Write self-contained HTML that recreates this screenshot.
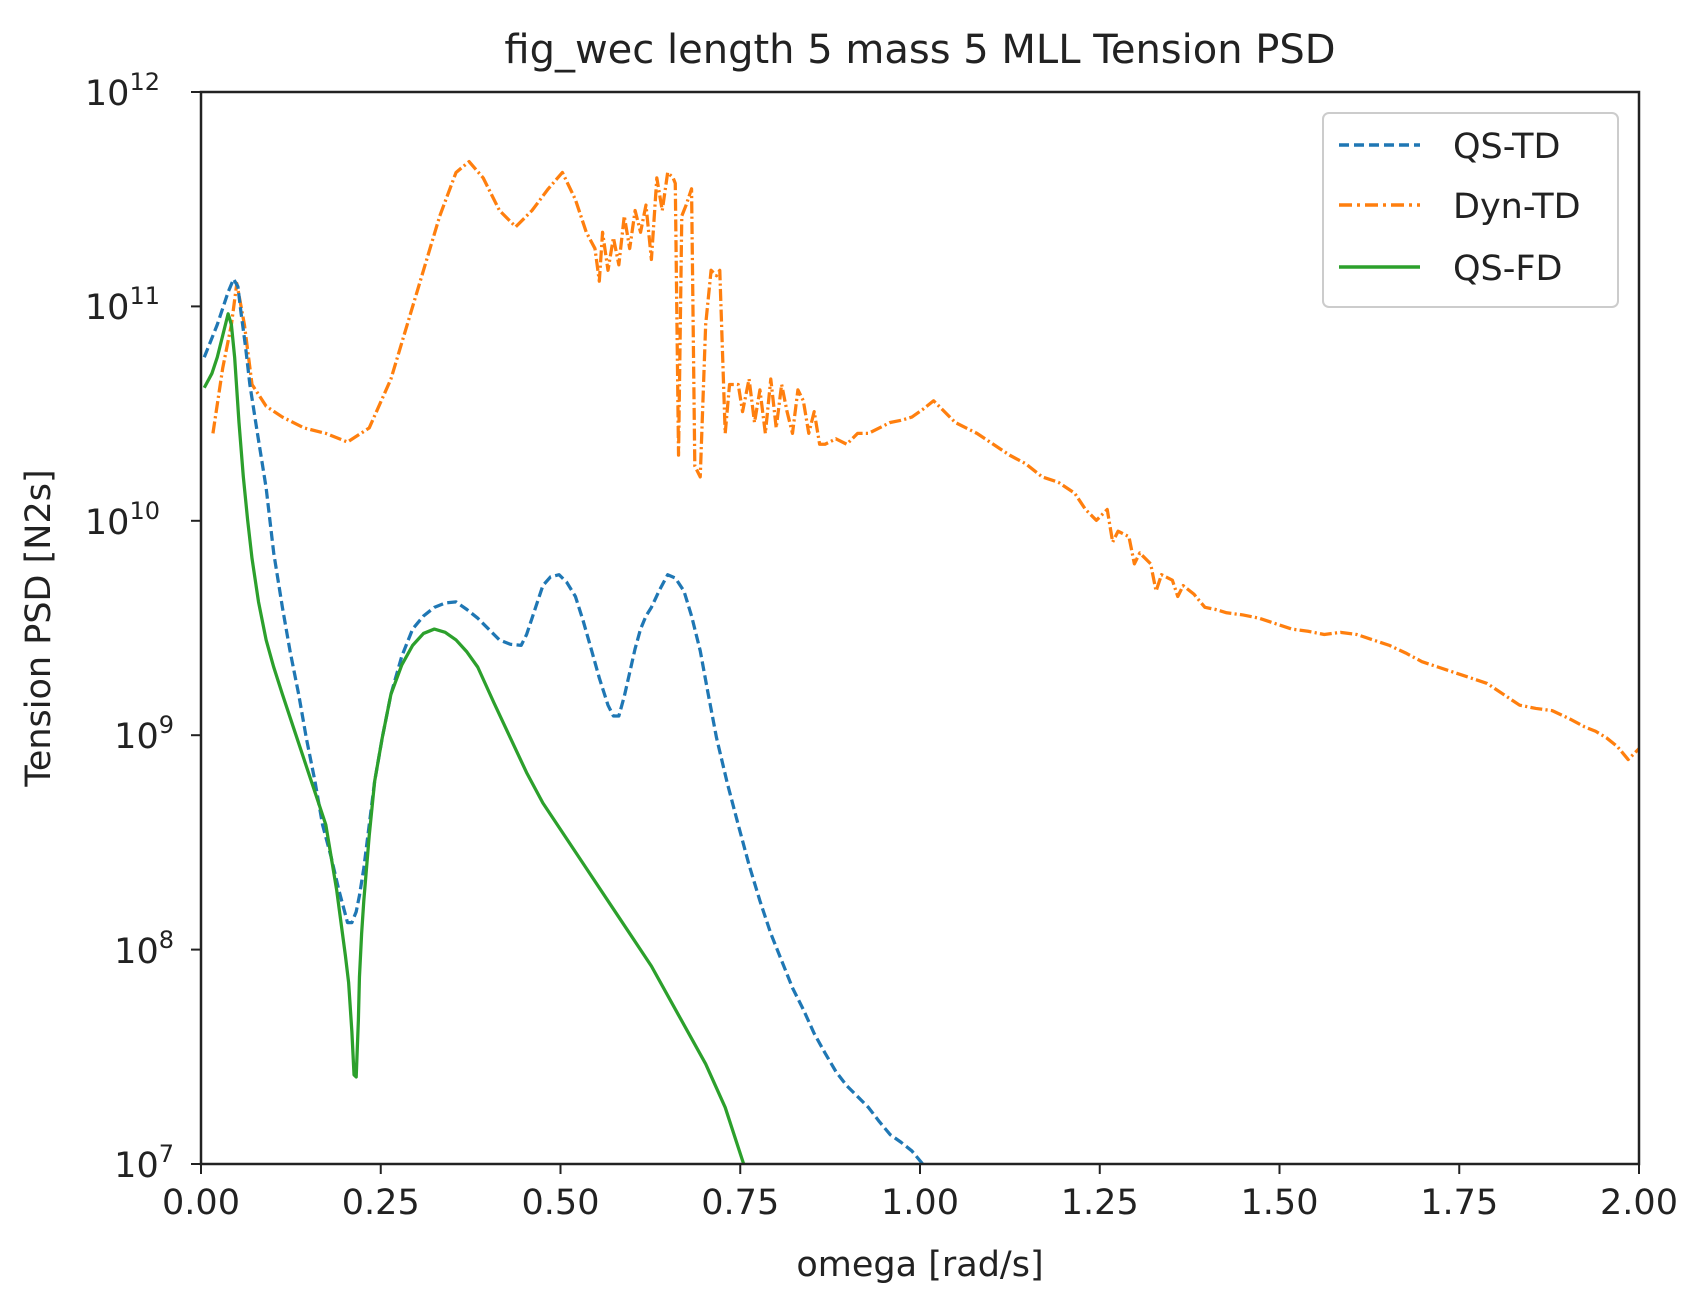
<!DOCTYPE html>
<html><head><meta charset="utf-8"><style>
html,body{margin:0;padding:0;background:#fff;}
svg{display:block;font-family:"DejaVu Sans","Liberation Sans",sans-serif;}
</style></head><body>
<svg width="1702" height="1307" viewBox="0 0 1702 1307" xmlns="http://www.w3.org/2000/svg">
<rect width="1702" height="1307" fill="#fff"/>
<text x="920" y="63" font-size="40" text-anchor="middle" fill="#222">fig_wec length 5 mass 5 MLL Tension PSD</text>
<g transform="matrix(1.0853,0,0,1.0872,0.22,-1.5)" fill="none" stroke-linejoin="round">
<clipPath id="c"><rect x="185" y="86" width="1325" height="986"/></clipPath>
<g clip-path="url(#c)">
<polyline stroke="#ff7f0e" stroke-width="3" stroke-dasharray="11,3,2,3" points="196,400 205,340 213,300 218,262 225,300 232,355 245,375 260,385 280,395 300,400 320,408 340,395 360,350 375,300 390,250 405,200 420,160 432,150 445,165 460,195 475,210 490,195 505,175 518,160 530,185 540,215 548,230 552,260 555,215 560,250 565,220 570,245 575,200 580,230 585,195 590,215 595,190 600,240 605,165 610,195 615,160 620,165 622,170 625,420 628,200 632,190 637,175 640,430 645,440 650,300 655,250 660,255 663,250 668,400 672,355 680,355 684,380 690,350 695,390 700,360 705,400 710,350 715,395 720,355 725,380 730,400 735,360 740,370 745,400 750,380 755,410 760,410 770,405 780,410 790,400 800,400 810,395 820,390 830,388 840,385 850,378 860,370 870,380 880,390 890,395 900,400 915,410 930,420 945,428 960,440 975,445 990,455 1000,470 1010,480 1020,470 1025,500 1030,490 1040,495 1045,520 1050,510 1060,520 1065,545 1070,530 1080,535 1085,550 1090,540 1100,548 1110,560 1120,562 1130,565 1145,567 1160,570 1175,575 1190,580 1205,582 1220,585 1235,583 1250,585 1265,590 1280,595 1295,602 1310,610 1325,615 1340,620 1355,625 1370,630 1385,640 1400,650 1415,653 1430,655 1445,662 1460,670 1470,674 1480,680 1490,688 1500,700 1510,690"/>
<polyline stroke="#1f77b4" stroke-width="3" stroke-dasharray="9,4" points="188,330 200,300 210,270 215,258 219,265 222,290 226,320 230,355 237,400 245,450 252,510 260,560 267,600 275,640 282,680 290,720 297,760 305,790 312,820 320,850 324,850 328,840 331,825 335,800 340,760 345,720 352,680 360,640 370,605 380,580 390,568 400,560 410,556 420,555 430,562 440,570 450,580 460,590 470,594 480,595 485,585 490,570 495,555 500,540 507,532 515,530 522,537 530,550 537,572 545,600 552,625 560,650 565,660 570,660 575,642 580,620 585,598 590,580 595,568 600,560 607,545 615,530 622,533 630,545 637,568 645,600 652,638 660,680 670,722 680,760 690,797 700,830 710,860 720,885 730,910 740,930 750,952 760,970 770,987 780,1000 790,1010 800,1020 810,1033 820,1045 830,1052 840,1060 850,1072"/>
<polyline stroke="#2ca02c" stroke-width="3" points="188,358 195,345 200,330 205,310 210,290 213,300 216,330 220,390 224,440 228,480 232,515 238,555 245,590 252,615 260,640 270,670 280,700 290,730 300,760 310,820 318,880 321,905 324,950 326,990 328,992 330,940 331,900 333,860 335,830 340,770 345,720 352,680 360,640 370,613 380,595 390,584 400,580 410,583 420,590 430,601 440,615 455,648 470,680 485,712 500,740 520,770 540,800 570,845 600,890 625,935 650,980 668,1020 685,1072"/>
</g>
</g>
<g stroke="#222" stroke-width="2.5" fill="none">
<rect x="201" y="92" width="1438" height="1072"/>
</g>
<g stroke="#222" stroke-width="2">
<line x1="201" y1="1164" x2="201" y2="1174"/><line x1="380.75" y1="1164" x2="380.75" y2="1174"/><line x1="560.5" y1="1164" x2="560.5" y2="1174"/><line x1="740.25" y1="1164" x2="740.25" y2="1174"/><line x1="920" y1="1164" x2="920" y2="1174"/><line x1="1099.75" y1="1164" x2="1099.75" y2="1174"/><line x1="1279.5" y1="1164" x2="1279.5" y2="1174"/><line x1="1459.25" y1="1164" x2="1459.25" y2="1174"/><line x1="1639" y1="1164" x2="1639" y2="1174"/>
<line x1="191" y1="92" x2="201" y2="92"/><line x1="191" y1="306.4" x2="201" y2="306.4"/><line x1="191" y1="520.8" x2="201" y2="520.8"/><line x1="191" y1="735.2" x2="201" y2="735.2"/><line x1="191" y1="949.6" x2="201" y2="949.6"/><line x1="191" y1="1164" x2="201" y2="1164"/>
</g>
<g stroke="#222" stroke-width="1.5" id="minor"></g>
<g font-size="35" fill="#222" text-anchor="middle">
<text x="201" y="1214">0.00</text><text x="380.75" y="1214">0.25</text><text x="560.5" y="1214">0.50</text><text x="740.25" y="1214">0.75</text><text x="920" y="1214">1.00</text><text x="1099.75" y="1214">1.25</text><text x="1279.5" y="1214">1.50</text><text x="1459.25" y="1214">1.75</text><text x="1639" y="1214">2.00</text>
<text x="920" y="1276">omega [rad/s]</text>
</g>
<g font-size="35" fill="#222" text-anchor="end">
<text x="160" y="105">10<tspan font-size="24" dy="-15">12</tspan></text>
<text x="160" y="319">10<tspan font-size="24" dy="-15">11</tspan></text>
<text x="160" y="534">10<tspan font-size="24" dy="-15">10</tspan></text>
<text x="174" y="748">10<tspan font-size="24" dy="-15">9</tspan></text>
<text x="174" y="963">10<tspan font-size="24" dy="-15">8</tspan></text>
<text x="174" y="1177">10<tspan font-size="24" dy="-15">7</tspan></text>
</g>
<text transform="translate(50,628) rotate(-90)" font-size="35" fill="#222" text-anchor="middle">Tension PSD [N2s]</text>
<rect x="1323" y="113" width="295" height="194" rx="6" fill="#fff" stroke="#ccc" stroke-width="2"/>
<line x1="1339" y1="145" x2="1420" y2="145" stroke="#1f77b4" stroke-width="3.5" stroke-dasharray="10,5"/>
<line x1="1339" y1="205" x2="1420" y2="205" stroke="#ff7f0e" stroke-width="3.5" stroke-dasharray="13,5,3,5"/>
<line x1="1339" y1="267" x2="1420" y2="267" stroke="#2ca02c" stroke-width="3.5"/>
<g font-size="35" fill="#222">
<text x="1453" y="158">QS-TD</text><text x="1453" y="218">Dyn-TD</text><text x="1453" y="280">QS-FD</text>
</g>
<script>
var g=document.getElementById('minor');var s='';
for(var d=0;d<5;d++){for(var k=2;k<10;k++){var y=1164-(d+Math.log10(k))*214.4;s+='<line x1="195" y1="'+y+'" x2="201" y2="'+y+'"/>';}}
g.innerHTML=s;
</script>
</svg>
</body></html>
